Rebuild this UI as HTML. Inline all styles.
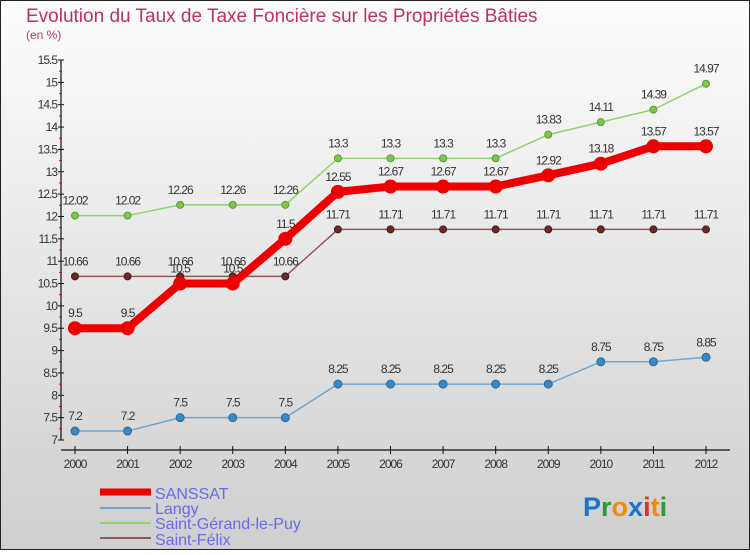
<!DOCTYPE html>
<html><head><meta charset="utf-8"><style>
html,body{margin:0;padding:0}
body{width:750px;height:550px;overflow:hidden;font-family:"Liberation Sans",sans-serif}
svg text{font-family:"Liberation Sans",sans-serif}
</style></head><body>
<svg id="chart" width="750" height="550" xmlns="http://www.w3.org/2000/svg">
<defs><linearGradient id="bg" x1="0" y1="0" x2="0" y2="1"><stop offset="0" stop-color="#fdfdfd"/><stop offset="1" stop-color="#cfcfcf"/></linearGradient></defs>
<rect x="0.5" y="0.5" width="749" height="549" fill="url(#bg)" stroke="#222"/>
<text x="26" y="22" font-size="19" fill="#c0305e">Evolution du Taux de Taxe Foncière sur les Propriétés Bâties</text>
<text x="26" y="39" font-size="12" fill="#c0305e">(en %)</text>
<g id="axes"></g>
<g id="series"></g>
<g>
<line x1="100" y1="492" x2="151" y2="492" stroke="#e00" stroke-width="7"/>
<text x="155" y="499" font-size="16" fill="#6a6ae8">SANSSAT</text>
<line x1="100" y1="508" x2="151" y2="508" stroke="#6fa5cf" stroke-width="2"/>
<text x="155" y="514" font-size="16" fill="#6a6ae8">Langy</text>
<line x1="100" y1="523" x2="151" y2="523" stroke="#8fd36a" stroke-width="2"/>
<text x="155" y="529" font-size="16" fill="#6a6ae8">Saint-Gérand-le-Puy</text>
<line x1="100" y1="538" x2="151" y2="538" stroke="#8b5a5a" stroke-width="2"/>
<text x="155" y="545" font-size="16" fill="#6a6ae8">Saint-Félix</text>
</g>
<text x="583" y="516" font-size="27" font-weight="bold"><tspan fill="#1a74c9">P</tspan><tspan fill="#2a9a3a">r</tspan><tspan fill="#f28a12">o</tspan><tspan fill="#1a74c9">x</tspan><tspan fill="#e03020">i</tspan><tspan fill="#f28a12">t</tspan><tspan fill="#2a9a3a">i</tspan></text>
</svg>
<script>
const years=["2000","2001","2002","2003","2004","2005","2006","2007","2008","2009","2010","2011","2012"];
const sanssat=[9.5,9.5,10.5,10.5,11.5,12.55,12.67,12.67,12.67,12.92,13.18,13.57,13.57];
const langy=[7.2,7.2,7.5,7.5,7.5,8.25,8.25,8.25,8.25,8.25,8.75,8.75,8.85];
const saintGerand=[12.02,12.02,12.26,12.26,12.26,13.3,13.3,13.3,13.3,13.83,14.11,14.39,14.97];
const saintFelix=[10.66,10.66,10.66,10.66,10.66,11.71,11.71,11.71,11.71,11.71,11.71,11.71,11.71];
const yTicks=["7","7.5","8","8.5","9","9.5","10","10.5","11","11.5","12","12.5","13","13.5","14","14.5","15","15.5"];
const NS="http://www.w3.org/2000/svg";
const X=i=>75+i*(706-75)/12;
const Y=v=>440-(v-7)*(440-60)/8.5;
function mk(tag,attrs,parent,txt){const e=document.createElementNS(NS,tag);for(const k in attrs)e.setAttribute(k,attrs[k]);if(txt!==undefined)e.textContent=txt;parent.appendChild(e);return e;}
const ax=document.getElementById('axes');
let a=mk('line',{x1:61,y1:60,x2:61,y2:440,stroke:'#111','stroke-width':1.2},ax);


a=mk('line',{x1:61,y1:450,x2:730,y2:450,stroke:'#111','stroke-width':1.2},ax);


yTicks.forEach((t,i)=>{const v=parseFloat(t),y=Y(v);
 mk('line',{x1:58,y1:y,x2:64,y2:y,stroke:'#111'},ax);
 const l=mk('text',{x:57,y:y+4,'font-size':12,fill:'#333','text-anchor':'end','letter-spacing':'-1'},ax,t);
 
 
 if(i<yTicks.length-1){const ym=Y(v+0.25);mk('line',{x1:59,y1:ym,x2:62,y2:ym,stroke:'#e00'},ax);}
});
years.forEach((t,i)=>{const x=X(i);
 mk('line',{x1:x,y1:446,x2:x,y2:454,stroke:'#111'},ax);
 const l=mk('text',{x:x,y:468,'font-size':12,fill:'#333','text-anchor':'middle','letter-spacing':'-1'},ax,t);
 
 
});
const sg=document.getElementById('series');
function draw(data,name,color,w,r,dot,stroke){
 const g=mk('g',{},sg);
 
 
 mk('polyline',{points:data.map((v,i)=>X(i)+','+Y(v)).join(' '),fill:'none',stroke:color,'stroke-width':w,'stroke-linejoin':'round'},g);
 data.forEach((v,i)=>{const c=mk('circle',{cx:X(i),cy:Y(v),r:r,fill:dot,stroke:stroke,'stroke-width':1},g);
  
  
  const t=mk('text',{x:X(i),y:Y(v)-11,'font-size':12,fill:'#333','text-anchor':'middle','letter-spacing':'-1'},g,String(v));
  
  
 });
}
draw(langy,'langy','#6fa5cf',1.5,4,'#3a88c6','#2a6a9a');
draw(saintGerand,'saint-gerand','#8fd36a',1.5,3.5,'#7cc94a','#5a9a30');
draw(saintFelix,'saint-felix','#8b5a5a',1.5,3.5,'#6a2a2a','#4a1a1a');
draw(sanssat,'sanssat','#ee0000',8,6.5,'#ee0000','#ee0000');
</script>
</body></html>
